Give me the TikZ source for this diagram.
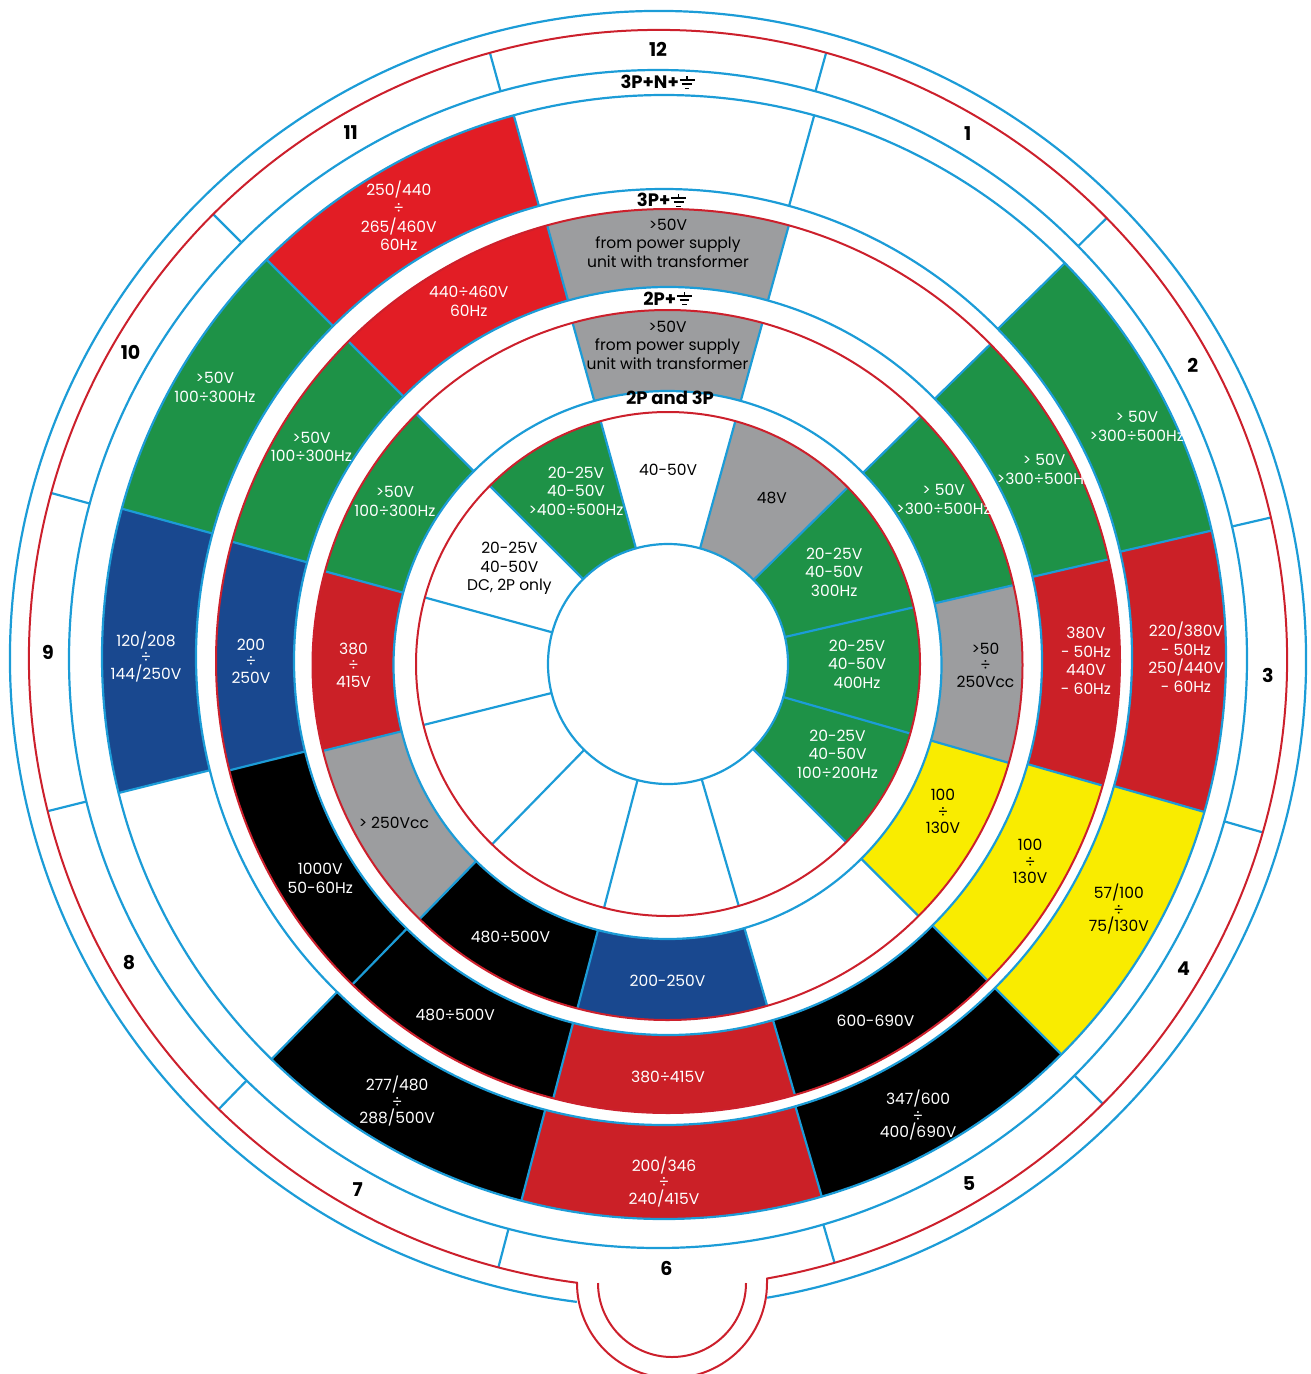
\documentclass[tikz,border=0pt]{standalone}
\usepackage{fontspec}
\setmainfont{Poppins}
\usetikzlibrary{calc}

\definecolor{sgreen}{RGB}{30,146,71}
\definecolor{sred}{RGB}{203,32,39}
\definecolor{bred}{RGB}{226,29,37}
\definecolor{sblue}{RGB}{25,72,143}
\definecolor{sgrey}{RGB}{156,157,159}
\definecolor{syellow}{RGB}{249,236,0}
\definecolor{lineblue}{RGB}{28,156,215}
\definecolor{linered}{RGB}{204,32,44}

% angles of the borders between the hours (12, 1, 2, ... 11, back to 12)
\newcommand*\bnd{{105.5,74.5,44.5,13,-16,-45,-73.7,-104.7,-134.3,-166,-195.3,-225,-254.5}}
% one coloured field: centre, inner radius, outer radius, hour (0 = 12), colour
\newcommand*\sect[5]{%
  \pgfmathsetmacro\sangA{\bnd[#4+1]}\pgfmathsetmacro\sangB{\bnd[#4]}%
  \fill[#5] ($(#1)+(\sangA:#2)$) arc[start angle=\sangA, end angle=\sangB, radius=#2]
    -- ($(#1)+(\sangB:#3)$) arc[start angle=\sangB, end angle=\sangA, radius=#3] -- cycle;}
% earth symbol
\newcommand*\gnd{\tikz[baseline=0pt,x=1em,y=1em,line width=0.085em]{%
  \draw (0.42,0.5)--(0.42,0.74) (0,0.5)--(0.84,0.5) (0.15,0.27)--(0.69,0.27) (0.29,0.04)--(0.55,0.04);}}

\tikzset{
    bline/.style={draw=lineblue, line width=2.2pt},
    rline/.style={draw=linered, line width=2pt},
    btxt/.style={align=center, inner sep=0pt, text=black,
        font=\fontsize{15.5}{18.5}\selectfont},
    wtxt/.style={btxt, text=white},
    tight/.style={font=\fontsize{15.5}{16.5}\selectfont},
    band/.style={inner sep=0pt, font=\fontsize{18}{20}\selectfont\bfseries},
    num/.style={inner sep=0pt, font=\fontsize{19}{20}\selectfont\bfseries}
}

\begin{document}
\begin{tikzpicture}[x=1pt,y=1pt]
    \useasboundingbox (0,0) rectangle (1311,-1374);

    % centres of the rings
    \coordinate (c1) at (668,-664);
    \coordinate (c2) at (667.5,-665);
    \coordinate (c3) at (668,-661);
    \coordinate (c4) at (664,-657);
    \coordinate (c5) at (658,-659);
    \coordinate (notch) at (672,-1283);

    % Fields of the four rings.
    \foreach \k/\col in {1/sgrey,2/sgreen,3/sgreen,4/sgreen,11/sgreen}
        \sect{c1}{120}{252}{\k}{\col};
    \foreach \k/\col in {0/sgrey,2/sgreen,3/sgrey,4/syellow,6/sblue,7/black,8/sgrey,9/sred,10/sgreen}
        \sect{c2}{274}{355}{\k}{\col};
    \foreach \k/\col in {0/sgrey,2/sgreen,3/sred,4/syellow,5/black,6/sred,7/black,8/black,9/sblue,10/sgreen,11/bred}
        \sect{c3}{374}{452}{\k}{\col};
    \foreach \k/\col in {2/sgreen,3/sred,4/syellow,5/black,6/sred,7/black,9/sblue,10/sgreen,11/bred}
        \sect{c4}{468}{562}{\k}{\col};

    % Dividers.
    \foreach \k in {0,...,11} {
        \pgfmathsetmacro\ang{\bnd[\k]}
        \draw[bline] ($(c1)+(\ang:120)$) -- ($(c1)+(\ang:252)$);
        \draw[bline] ($(c2)+(\ang:274)$) -- ($(c2)+(\ang:355)$);
        \draw[bline] ($(c3)+(\ang:374)$) -- ($(c3)+(\ang:452)$);
        \draw[bline] ($(c4)+(\ang:468)$) -- ($(c4)+(\ang:562)$);
        \draw[bline] ($(c5)+(\ang:589)$) -- ($(c5)+(\ang:629)$);
    }

    % Circles.
    \draw[bline] (c1) circle[radius=120];
    \draw[rline] (c1) circle[radius=252];
    \draw[bline] (c2) circle[radius=274];
    \draw[rline] (c2) circle[radius=355];
    \draw[bline] (c3) circle[radius=374];
    \draw[rline] (c3) circle[radius=452];
    \draw[bline] (c4) circle[radius=468];
    \draw[bline] (c4) circle[radius=562];
    \draw[bline] (c5) circle[radius=589];

    % Outer rim with the notch at the bottom.
    \draw[rline] ($(c5)+(-80.0:629)$) arc[start angle=-80.0, end angle=262.6, radius=629]
        -- ($(notch)+(180:95)$) arc[start angle=180, end angle=360, radius=95] -- cycle;
    \draw[rline] ($(notch)+(180:74)$) arc[start angle=180, end angle=360, radius=74];
    \draw[bline] ($(c5)+(-80.3:648)$) arc[start angle=-80.3, end angle=262.8, radius=648];

    % Ring titles.
    \node[band] (t1) at (670,-398) {2P and 3P};
    \node[band] (t2) at (668,-298) {2P+\gnd};
    \node[band] (t3) at (662,-200) {3P+\gnd};
    \node[band] (t4) at (658,-82) {3P+N+\gnd};

    % Clock hours, in the middle of their cells.
    \foreach \k in {1,...,12} {
        \pgfmathtruncatemacro\hk{mod(\k,12)}
        \pgfmathsetmacro\angA{\bnd[\hk]}
        \pgfmathsetmacro\angB{\bnd[\hk+1]}
        \pgfmathsetmacro\ang{(\angA+\angB)/2}
        \node[num] (h\k) at ($(c5)+(\ang:610)$) {\k};
    }

    % Ring 1: 2P and 3P.
    \node[btxt] (r1n0) at ($(c1)+(90:194)$) {40-50V};
    \node[btxt] (r1n1) at ($(c1)+(58:196)$) {48V};
    \node[wtxt] (r1n2) at ($(c1)+(29:190)$) {20-25V\\40-50V\\300Hz};
    \node[wtxt] (r1n3) at ($(c1)+(0:189)$) {20-25V\\40-50V\\400Hz};
    \node[wtxt] (r1n4) at ($(c1)+(-28:192)$) {20-25V\\40-50V\\100÷200Hz};
    \node[btxt] (r1n10) at ($(c1)+(149:185)$) {20-25V\\40-50V\\DC, 2P only};
    \node[wtxt] (r1n11) at ($(c1)+(118:196)$) {20-25V\\40-50V\\>400÷500Hz};

    % Ring 2: 2P+earth.
    \node[btxt] (r2n0) at ($(c2)+(90:320)$) {>50V\\from power supply\\unit with transformer};
    \node[wtxt] (r2n2) at ($(c2)+(31:322)$) {> 50V\\>300÷500Hz};
    \node[btxt,tight] (r2n3) at ($(c2)+(0:318)$) {>50\\÷\\250Vcc};
    \node[btxt,tight] (r2n4) at ($(c2)+(-28:312)$) {100\\÷\\130V};
    \node[wtxt] (r2n6) at ($(c2)+(-90:316)$) {200-250V};
    \node[wtxt] (r2n7) at ($(c2)+(-120:314)$) {480÷500V};
    \node[btxt] (r2n8) at ($(c2)+(-150:316)$) {> 250Vcc};
    \node[wtxt,tight] (r2n9) at ($(c2)+(180:314)$) {380\\÷\\415V};
    \node[wtxt] (r2n10) at ($(c2)+(149:318)$) {>50V\\100÷300Hz};

    % Ring 3: 3P+earth.
    \node[btxt] (r3n0) at ($(c3)+(90:418)$) {>50V\\from power supply\\unit with transformer};
    \node[wtxt] (r3n2) at ($(c3)+(27:422)$) {> 50V\\>300÷500Hz};
    \node[wtxt] (r3n3) at ($(c3)+(0:418)$) {380V\\- 50Hz\\440V\\- 60Hz};
    \node[btxt,tight] (r3n4) at ($(c3)+(-29:414)$) {100\\÷\\130V};
    \node[wtxt] (r3n5) at ($(c3)+(-60:415)$) {600-690V};
    \node[wtxt] (r3n6) at ($(c3)+(-90:416)$) {380÷415V};
    \node[wtxt] (r3n7) at ($(c3)+(-121:413)$) {480÷500V};
    \node[wtxt] (r3n8) at ($(c3)+(-148:410)$) {1000V\\50-60Hz};
    \node[wtxt,tight] (r3n9) at ($(c3)+(180:417)$) {200\\÷\\250V};
    \node[wtxt] (r3n10) at ($(c3)+(149:416)$) {>50V\\100÷300Hz};
    \node[wtxt] (r3n11) at ($(c3)+(119:411)$) {440÷460V\\60Hz};

    % Ring 4: 3P+N+earth.
    \node[wtxt] (r4n2) at ($(c4)+(26:526)$) {> 50V\\>300÷500Hz};
    \node[wtxt] (r4n3) at ($(c4)+(0:522)$) {220/380V\\- 50Hz\\250/440V\\- 60Hz};
    \node[btxt,tight] (r4n4) at ($(c4)+(-29:520)$) {57/100\\÷\\75/130V};
    \node[wtxt,tight] (r4n5) at ($(c4)+(-61:524)$) {347/600\\÷\\400/690V};
    \node[wtxt,tight] (r4n6) at ($(c4)+(-90:525)$) {200/346\\÷\\240/415V};
    \node[wtxt,tight] (r4n7) at ($(c4)+(-121:518)$) {277/480\\÷\\288/500V};
    \node[wtxt,tight] (r4n9) at ($(c4)+(180:518)$) {120/208\\÷\\144/250V};
    \node[wtxt] (r4n10) at ($(c4)+(149:524)$) {>50V\\100÷300Hz};
    \node[wtxt] (r4n11) at ($(c4)+(121:515)$) {250/440\\÷\\265/460V\\60Hz};

\end{tikzpicture}
\end{document}
